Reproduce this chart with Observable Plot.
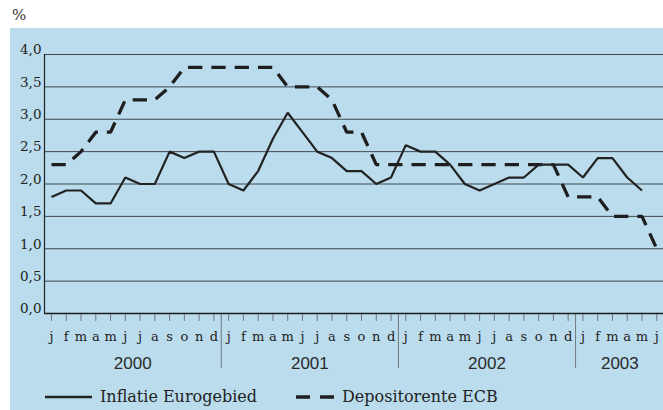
<!DOCTYPE html>
<html>
<head>
<meta charset="utf-8">
<script src="https://cdn.jsdelivr.net/npm/d3@7"></script>
<script src="https://cdn.jsdelivr.net/npm/@observablehq/plot@0.6"></script>
<style>
  html, body { margin: 0; padding: 0; background: #fff; }
  #wrap { position: relative; width: 663px; height: 410px; overflow: hidden; }
  #pct { position: absolute; left: 12px; top: 6px; font-family: "DejaVu Serif", serif; font-size: 15px; color: #333; }
  #panel { position: absolute; left: 10px; top: 28px; width: 653px; height: 382px; background: #badcec; }
  #legend { position: relative; height: 32px; font-family: "DejaVu Serif", serif; font-size: 16px; color: #222; }
  #legend .sw { position: absolute; top: 16px; }
  #legend .lb { position: absolute; top: 9px; line-height: 20px; }
</style>
</head>
<body>
<div id="wrap">
  <div id="pct">%</div>
  <div id="panel">
    <div id="chart"></div>
    <div id="legend"></div>
  </div>
</div>
<script>
const months = ["j","f","m","a","m","j","j","a","s","o","n","d"];
const years = ["2000","2001","2002","2003"];
// Inflatie Eurogebied, Jan 2000 .. May 2003
const inflation = [
  1.8,1.9,1.9,1.7,1.7,2.1,2.0,2.0,2.5,2.4,2.5,2.5,
  2.0,1.9,2.2,2.7,3.1,2.8,2.5,2.4,2.2,2.2,2.0,2.1,
  2.6,2.5,2.5,2.3,2.0,1.9,2.0,2.1,2.1,2.3,2.3,2.3,
  2.1,2.4,2.4,2.1,1.9
];
// Depositorente ECB, Jan 2000 .. Jun 2003
const deposit = [
  2.3,2.3,2.5,2.8,2.8,3.3,3.3,3.3,3.5,3.8,3.8,3.8,
  3.8,3.8,3.8,3.8,3.5,3.5,3.5,3.3,2.8,2.8,2.3,2.3,
  2.3,2.3,2.3,2.3,2.3,2.3,2.3,2.3,2.3,2.3,2.3,1.8,
  1.8,1.8,1.5,1.5,1.5,1.0
];
const yTicks = [0,0.5,1,1.5,2,2.5,3,3.5,4];
const seriesNames = ["Inflatie Eurogebied", "Depositorente ECB"];

const n = deposit.length;
const infData = inflation.map((v,i) => ({i, v}));
const depData = deposit.map((v,i) => ({i, v}));
const yearCenters = years.map((y,k) => k*12 + (Math.min(12, n - k*12) - 1)/2);
const separators = years.slice(1).map((y,k) => (k+1)*12 - 0.5);
const xDomain = [-0.474, n - 1 + 0.457];
const comma = d => d.toFixed(1).replace(".", ",");

const chart = Plot.plot({
  width: 653,
  height: 350,
  marginLeft: 34,
  marginRight: 0,
  marginTop: 26,
  marginBottom: 65,
  x: {domain: xDomain, label: null},
  y: {domain: [0, 4], label: null},
  style: {background: "transparent", overflow: "visible", fontFamily: "DejaVu Serif", fontSize: "13px", color: "#222"},
  marks: [
    Plot.ruleY(yTicks.filter(d => d > 0), {stroke: "#3e4a50", strokeWidth: 1}),
    Plot.axisY({ticks: yTicks, tickFormat: comma, tickSize: 0, tickPadding: 3, fontSize: 13.5, dy: -4.5, label: null}),
    Plot.axisX({ticks: d3.range(n), tickFormat: i => months[i % 12], tickSize: 8, tickPadding: 10, stroke: "#6f7a80", fontSize: 13, label: null}),
    Plot.axisX({ticks: separators, tickFormat: () => "", tickSize: 55, stroke: "#6f7a80", label: null}),
    Plot.axisX({ticks: yearCenters, tickFormat: (d, k) => years[k], tickSize: 0, tickPadding: 43, fontFamily: "Liberation Sans", fontSize: 17, fill: "#2a2a2a", label: null}),
    Plot.ruleX([xDomain[0]], {y1: 0, y2: 4, stroke: "#222", strokeWidth: 1.2}),
    Plot.ruleY([0], {stroke: "#1e1e1e", strokeWidth: 1.5}),
    Plot.line(depData, {x: "i", y: "v", stroke: "#1e1e1e", strokeWidth: 3.3, strokeDasharray: "14.3,9", strokeLinecap: "butt", strokeLinejoin: "miter"}),
    Plot.line(infData, {x: "i", y: "v", stroke: "#222", strokeWidth: 2.2, strokeLinecap: "butt", strokeLinejoin: "miter"})
  ]
});
document.getElementById("chart").appendChild(chart);

const legend = document.getElementById("legend");
legend.innerHTML =
  `<svg class="sw" style="left:35px" width="48" height="6"><line x1="0" x2="47" y1="3" y2="3" stroke="#222" stroke-width="2.6"/></svg>` +
  `<span class="lb" style="left:90px">${seriesNames[0]}</span>` +
  `<svg class="sw" style="left:286px" width="40" height="6"><line x1="0" x2="38" y1="3" y2="3" stroke="#1e1e1e" stroke-width="3.3" stroke-dasharray="14,10"/></svg>` +
  `<span class="lb" style="left:332px">${seriesNames[1]}</span>`;
</script>
</body>
</html>
